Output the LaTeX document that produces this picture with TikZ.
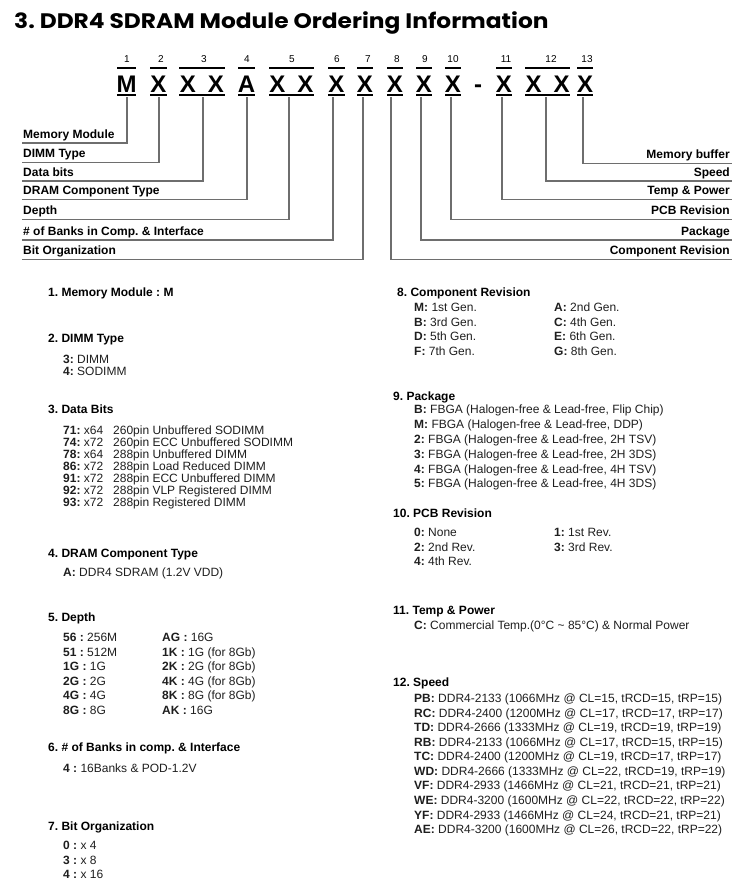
\documentclass[tikz,border=0pt]{standalone}
\usepackage{fontspec}
\setmainfont{Liberation Sans}
\newfontfamily\titlefont{Poppins}
\definecolor{leadgray}{HTML}{6E6E6E}
\definecolor{txtgray}{HTML}{1E1E1E}
\frenchspacing
\begin{document}
\frenchspacing
\begin{tikzpicture}[x=1pt,y=-1pt,
  txt/.style={anchor=base west,inner sep=0pt,font=\fontsize{12}{14}\selectfont,text=txtgray},
  hd/.style={anchor=base west,inner sep=0pt,font=\fontsize{12}{14}\selectfont\bfseries,text=black},
  lab/.style={inner sep=0pt,font=\fontsize{12}{14}\selectfont\bfseries,text=black},
  code/.style={anchor=base,inner sep=0pt,font=\fontsize{24}{28}\selectfont\bfseries},
  num/.style={anchor=base,inner sep=0pt,font=\fontsize{10}{12}\selectfont},
  bar/.style={line width=2pt},
  lead/.style={draw=leadgray,line width=1.2pt}]
\path[use as bounding box] (0,0) rectangle (750,895);

% title
\node[anchor=base west,inner sep=0pt,xscale=1.11,font=\titlefont\fontsize{21}{24}\selectfont\bfseries] (title) at (14,28.5) {3. DDR4 SDRAM Module Ordering Information};

% code groups: bars
\foreach \l/\r in {117/136,150/167,179/225,238/255,269/314,328/345,357/373,387/403,416/432,445/461,496/512,525/570,577/593}{
  \draw[bar] (\l,68) -- (\r,68);
  \draw[bar] (\l,95) -- (\r,95);
}
% numbers
\foreach \n/\x in {1/127,2/161,3/204,4/247,5/292,6/337,7/368,8/397,9/425,10/453,11/506,12/551,13/587}{
  \node[num] (n\n) at (\x,62) {\n};
}
% letters
\node[code] (c1) at (126.5,92) {M};
\node[code] (c2) at (158.5,92) {X};
\node[code] (c3a) at (188,92) {X};
\node[code] (c3b) at (216,92) {X};
\node[code] (c4) at (246.5,92) {A};
\node[code] (c5a) at (277.5,92) {X};
\node[code] (c5b) at (305.5,92) {X};
\node[code] (c6) at (336.5,92) {X};
\node[code] (c7) at (365,92) {X};
\node[code] (c8) at (395,92) {X};
\node[code] (c9) at (424,92) {X};
\node[code] (c10) at (453,92) {X};
\node[code] (dash) at (478,92) {-};
\node[code] (c11) at (504,92) {X};
\node[code] (c12a) at (533.5,92) {X};
\node[code] (c12b) at (561.5,92) {X};
\node[code] (c13) at (585,92) {X};

% stems
\foreach \i/\x in {1/127,2/159,3/203,4/247,5/289,6/333,7/363,8/391,9/421,10/451,11/502,12/546,13/583}{
  \coordinate (s\i) at (\x,97);
}
% left leaders
\foreach \i/\y/\t in {1/143/Memory Module,2/162.3/DIMM Type,3/181/Data bits,4/199.3/DRAM Component Type,5/219.3/Depth,6/240/\# of Banks in Comp. \& Interface,7/259.3/Bit Organization}{
  \coordinate (e\i) at (22,\y);
  \draw[lead] (s\i) |- (e\i);
  \node[lab,anchor=base west] (l\i) at (23,\y-5) {\t};
}
% right leaders
\foreach \i/\y/\t in {13/163.3/Memory buffer,12/181/Speed,11/199.3/Temp \& Power,10/219.3/PCB Revision,9/240/Package,8/259.3/Component Revision}{
  \coordinate (e\i) at (732,\y);
  \draw[lead] (s\i) |- (e\i);
  \node[lab,anchor=base east] (l\i) at (730,\y-5) {\t};
}

% ---------- left column ----------
\node[hd] (h1) at (48,296.5) {1. Memory Module : M};

\node[hd] (h2) at (48,342.5) {2. DIMM Type};
\node[txt] (d2a) at (63,363.5) {\textbf{3:} DIMM};
\node[txt] (d2b) at (63,375.5) {\textbf{4:} SODIMM};

\node[hd] (h3) at (48,413.5) {3. Data Bits};
\node[txt] (d3a) at (63,434) {\textbf{71:} x64};
\node[txt] (d3b) at (63,446) {\textbf{74:} x72};
\node[txt] (d3c) at (63,458) {\textbf{78:} x64};
\node[txt] (d3d) at (63,470) {\textbf{86:} x72};
\node[txt] (d3e) at (63,482) {\textbf{91:} x72};
\node[txt] (d3f) at (63,494) {\textbf{92:} x72};
\node[txt] (d3g) at (63,506) {\textbf{93:} x72};
\node[txt] (t3a) at (113,434) {260pin Unbuffered SODIMM};
\node[txt] (t3b) at (113,446) {260pin ECC Unbuffered SODIMM};
\node[txt] (t3c) at (113,458) {288pin Unbuffered DIMM};
\node[txt] (t3d) at (113,470) {288pin Load Reduced DIMM};
\node[txt] (t3e) at (113,482) {288pin ECC Unbuffered DIMM};
\node[txt] (t3f) at (113,494) {288pin VLP Registered DIMM};
\node[txt] (t3g) at (113,506) {288pin Registered DIMM};

\node[hd] (h4) at (48,557.5) {4. DRAM Component Type};
\node[txt] (d4) at (63,576.5) {\textbf{A:} DDR4 SDRAM (1.2V VDD)};

\node[hd] (h5) at (48,621.5) {5. Depth};
\node[txt] (d5a) at (63,641.5) {\textbf{56 :} 256M};
\node[txt] (d5b) at (63,656.1) {\textbf{51 :} 512M};
\node[txt] (d5c) at (63,670.7) {\textbf{1G :} 1G};
\node[txt] (d5d) at (63,685.3) {\textbf{2G :} 2G};
\node[txt] (d5e) at (63,699.9) {\textbf{4G :} 4G};
\node[txt] (d5f) at (63,714.5) {\textbf{8G :} 8G};
\node[txt] (d5g) at (162,641.5) {\textbf{AG :} 16G};
\node[txt] (d5h) at (162,656.1) {\textbf{1K :} 1G (for 8Gb)};
\node[txt] (d5i) at (162,670.7) {\textbf{2K :} 2G (for 8Gb)};
\node[txt] (d5j) at (162,685.3) {\textbf{4K :} 4G (for 8Gb)};
\node[txt] (d5k) at (162,699.9) {\textbf{8K :} 8G (for 8Gb)};
\node[txt] (d5l) at (162,714.5) {\textbf{AK :} 16G};

\node[hd] (h6) at (48,751.5) {6. \# of Banks in comp. \& Interface};
\node[txt] (d6) at (63,772.5) {\textbf{4 :} 16Banks \& POD-1.2V};

\node[hd] (h7) at (48,830.5) {7. Bit Organization};
\node[txt] (d7a) at (63,849.5) {\textbf{0 :} x 4};
\node[txt] (d7b) at (63,864) {\textbf{3 :} x 8};
\node[txt] (d7c) at (63,878.5) {\textbf{4 :} x 16};

% ---------- right column ----------
\node[hd] (h8) at (397,296.5) {8. Component Revision};
\node[txt] (d8a) at (414,311.5) {\textbf{M:} 1st Gen.};
\node[txt] (d8b) at (414,326) {\textbf{B:} 3rd Gen.};
\node[txt] (d8c) at (414,340.5) {\textbf{D:} 5th Gen.};
\node[txt] (d8d) at (414,355) {\textbf{F:} 7th Gen.};
\node[txt] (d8e) at (554,311.5) {\textbf{A:} 2nd Gen.};
\node[txt] (d8f) at (554,326) {\textbf{C:} 4th Gen.};
\node[txt] (d8g) at (554,340.5) {\textbf{E:} 6th Gen.};
\node[txt] (d8h) at (554,355) {\textbf{G:} 8th Gen.};

\node[hd] (h9) at (393,400.5) {9. Package};
\node[txt] (d9a) at (414,413.8) {\textbf{B:} FBGA (Halogen-free \& Lead-free, Flip Chip)};
\node[txt] (d9b) at (414,428.6) {\textbf{M:} FBGA (Halogen-free \& Lead-free, DDP)};
\node[txt] (d9c) at (414,443.4) {\textbf{2:} FBGA (Halogen-free \& Lead-free, 2H TSV)};
\node[txt] (d9d) at (414,458.2) {\textbf{3:} FBGA (Halogen-free \& Lead-free, 2H 3DS)};
\node[txt] (d9e) at (414,473.0) {\textbf{4:} FBGA (Halogen-free \& Lead-free, 4H TSV)};
\node[txt] (d9f) at (414,487.8) {\textbf{5:} FBGA (Halogen-free \& Lead-free, 4H 3DS)};

\node[hd] (h10) at (393,517.5) {10. PCB Revision};
\node[txt] (d10a) at (414,536.5) {\textbf{0:} None};
\node[txt] (d10b) at (414,551) {\textbf{2:} 2nd Rev.};
\node[txt] (d10c) at (414,565.5) {\textbf{4:} 4th Rev.};
\node[txt] (d10d) at (554,536.5) {\textbf{1:} 1st Rev.};
\node[txt] (d10e) at (554,551) {\textbf{3:} 3rd Rev.};

\node[hd] (h11) at (393,614.5) {11. Temp \& Power};
\node[txt] (d11) at (414,629.5) {\textbf{C:} Commercial Temp.(0°C \textasciitilde{} 85°C) \& Normal Power};

\node[hd] (h12) at (393,686.5) {12. Speed};
\node[txt] (d12a) at (414,702.5) {\textbf{PB:} DDR4-2133 (1066MHz @ CL=15, tRCD=15, tRP=15)};
\node[txt] (d12b) at (414,717.1) {\textbf{RC:} DDR4-2400 (1200MHz @ CL=17, tRCD=17, tRP=17)};
\node[txt] (d12c) at (414,731.6) {\textbf{TD:} DDR4-2666 (1333MHz @ CL=19, tRCD=19, tRP=19)};
\node[txt] (d12d) at (414,746.2) {\textbf{RB:} DDR4-2133 (1066MHz @ CL=17, tRCD=15, tRP=15)};
\node[txt] (d12e) at (414,760.7) {\textbf{TC:} DDR4-2400 (1200MHz @ CL=19, tRCD=17, tRP=17)};
\node[txt] (d12f) at (414,775.3) {\textbf{WD:} DDR4-2666 (1333MHz @ CL=22, tRCD=19, tRP=19)};
\node[txt] (d12g) at (414,789.9) {\textbf{VF:} DDR4-2933 (1466MHz @ CL=21, tRCD=21, tRP=21)};
\node[txt] (d12h) at (414,804.4) {\textbf{WE:} DDR4-3200 (1600MHz @ CL=22, tRCD=22, tRP=22)};
\node[txt] (d12i) at (414,819.0) {\textbf{YF:} DDR4-2933 (1466MHz @ CL=24, tRCD=21, tRP=21)};
\node[txt] (d12j) at (414,833.5) {\textbf{AE:} DDR4-3200 (1600MHz @ CL=26, tRCD=22, tRP=22)};
\end{tikzpicture}
\end{document}
